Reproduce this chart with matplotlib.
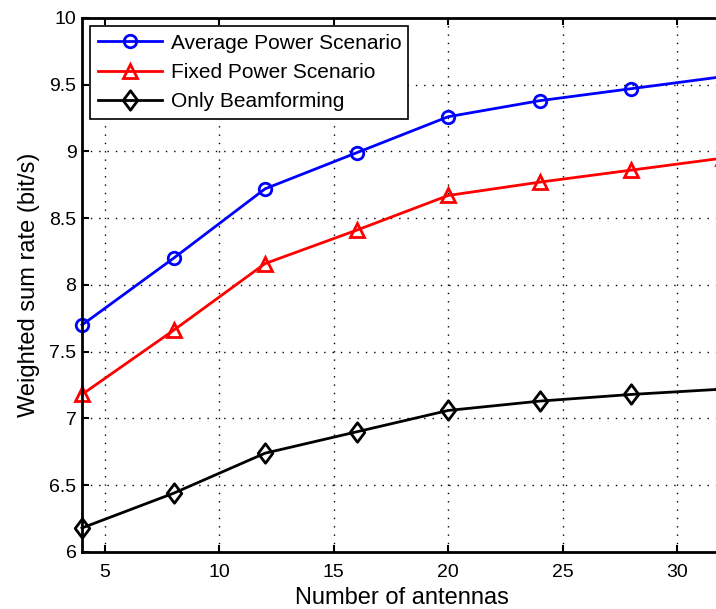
import matplotlib.pyplot as plt
from matplotlib.path import Path

plt.rcParams['font.family'] = ['Liberation Sans', 'DejaVu Sans']

antennas = [4, 8, 12, 16, 20, 24, 28, 32]
avg_power = [7.70, 8.20, 8.72, 8.99, 9.26, 9.38, 9.47, 9.56]
fixed_power = [7.18, 7.66, 8.16, 8.41, 8.67, 8.77, 8.86, 8.95]
only_bf = [6.18, 6.44, 6.74, 6.90, 7.06, 7.13, 7.18, 7.22]

# slightly narrow diamond
diamond = Path([(0, 1), (0.75, 0), (0, -1), (-0.75, 0), (0, 1)],
               [Path.MOVETO, Path.LINETO, Path.LINETO, Path.LINETO, Path.CLOSEPOLY])

fig = plt.figure(figsize=(7.16, 6.09), dpi=100)
# axes runs past the right edge of the canvas
ax = fig.add_axes([0.1145, 0.0936, 0.895, 0.877])

ax.plot(antennas, avg_power, '-', marker='o', color='blue', lw=2, ms=9, mfc='none', mew=2,
        label='Average Power Scenario', clip_on=False)
ax.plot(antennas, fixed_power, '-', marker='^', color='red', lw=2, ms=10, mfc='none', mew=2,
        label='Fixed Power Scenario', clip_on=False)
ax.plot(antennas, only_bf, '-', marker=diamond, color='black', lw=2, ms=14, mfc='none', mew=2,
        label='Only Beamforming', clip_on=False)

ax.set_xlim(4, 32)
ax.set_ylim(6, 10)
ax.set_xticks([5, 10, 15, 20, 25, 30])
ax.set_yticks([6, 6.5, 7, 7.5, 8, 8.5, 9, 9.5, 10])
ax.set_yticklabels(['6', '6.5', '7', '7.5', '8', '8.5', '9', '9.5', '10'])
ax.grid(True, color='black', linestyle=(0, (1, 5)), linewidth=1.0)
ax.tick_params(direction='in', labelsize=14, length=5, width=1.5, top=True, right=True)
ax.tick_params(axis='x', pad=9)
ax.tick_params(axis='y', pad=4)
for s in ax.spines.values():
    s.set_linewidth(2)

ax.set_xlabel('Number of antennas', fontsize=17, labelpad=4)
ax.set_ylabel('Weighted sum rate (bit/s)', fontsize=17, labelpad=7)

leg = ax.legend(loc='upper left', fontsize=15, fancybox=False, framealpha=1,
                edgecolor='black', handlelength=3.1, handletextpad=0.4,
                borderaxespad=0.4, labelspacing=0.5, borderpad=0.35)
leg.get_frame().set_linewidth(1.2)

fig.savefig('out.png', dpi=100)
